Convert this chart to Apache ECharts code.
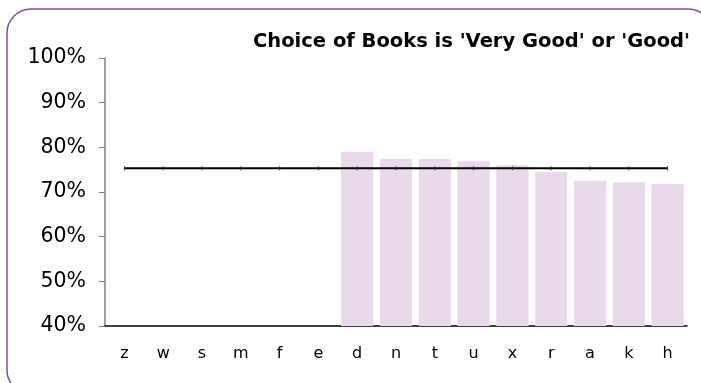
<!DOCTYPE html>
<html>
<head>
<meta charset="utf-8">
<script src="https://cdn.jsdelivr.net/npm/echarts@6/dist/echarts.min.js"></script>
<style>
  html, body { margin: 0; padding: 0; background: #fff; }
  #chart { width: 701px; height: 383px; }
</style>
</head>
<body>
<div id="chart"></div>
<script>
// Categories along the x axis
const categories = ['z', 'w', 's', 'm', 'f', 'e', 'd', 'n', 't', 'u', 'x', 'r', 'a', 'k', 'h'];
// Share rating choice of books 'Very Good' or 'Good' (%), blank where no score
const scores = [null, null, null, null, null, null, 79.0, 77.4, 77.4, 76.9, 76.0, 74.5, 72.5, 72.2, 71.8];
// Overall average reference line (%)
const average = [75.3, 75.3, 75.3, 75.3, 75.3, 75.3, 75.3, 75.3, 75.3, 75.3, 75.3, 75.3, 75.3, 75.3, 75.3];
// Value axis range and step (%)
const yMin = 40, yMax = 100, yStep = 10;

const chart = echarts.init(document.getElementById('chart'), null, { renderer: 'canvas' });
const font = 'Verdana, "DejaVu Sans", sans-serif';

chart.setOption({
  animation: false,
  backgroundColor: '#ffffff',
  title: {
    text: "Choice of Books is 'Very Good' or 'Good'",
    right: 6,
    top: 27,
    textStyle: { fontFamily: font, fontSize: 19.5, fontWeight: 'bold', color: '#000' }
  },
  graphic: [{
    type: 'rect',
    shape: { x: 7, y: 9, width: 705, height: 385, r: 24 },
    style: { fill: 'none', stroke: '#7b52a3', lineWidth: 1.5 },
    silent: true,
    z: 100
  }],
  grid: { left: 105, right: 14, top: 58, bottom: 57, containLabel: false },
  xAxis: {
    type: 'category',
    data: categories,
    axisLine: { show: true, lineStyle: { color: '#000', width: 1.5 } },
    axisTick: { show: false },
    axisLabel: { fontFamily: font, fontSize: 16, color: '#000', margin: 20 }
  },
  yAxis: {
    type: 'value',
    min: yMin,
    max: yMax,
    interval: yStep,
    axisLine: { show: true, lineStyle: { color: '#808080', width: 1.5 } },
    axisTick: { show: true, length: 6, lineStyle: { color: '#808080' } },
    splitLine: { show: false },
    axisLabel: { fontFamily: font, fontSize: 20.5, color: '#000', margin: 19, formatter: '{value}%' }
  },
  series: [
    {
      type: 'bar',
      data: scores,
      barCategoryGap: '17%',
      itemStyle: { color: '#ead9eb' },
      z: 1
    },
    {
      type: 'line',
      data: average,
      symbol: 'rect',
      symbolSize: [1, 4],
      itemStyle: { color: '#333' },
      lineStyle: { color: '#000', width: 2 },
      z: 3
    }
  ]
});
</script>
</body>
</html>
